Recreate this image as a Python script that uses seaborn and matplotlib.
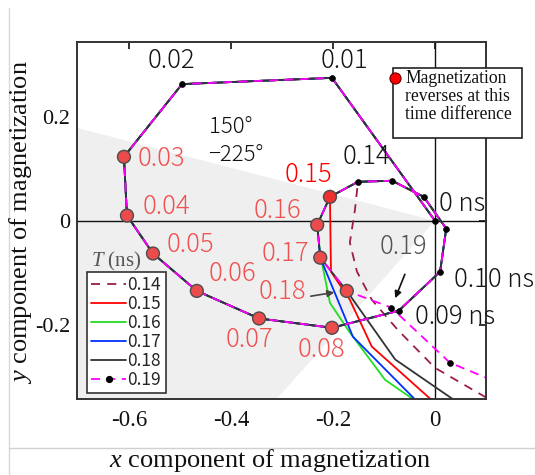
import matplotlib
matplotlib.use("Agg")
import matplotlib.pyplot as plt
import seaborn as sns
from matplotlib.lines import Line2D
from matplotlib.patches import Rectangle

# ---------------------------------------------------------------
# Shared magnetization trajectory, one point every 0.01 ns
# ---------------------------------------------------------------
times = [0.00, 0.01, 0.02, 0.03, 0.04, 0.05, 0.06, 0.07, 0.08, 0.09,
         0.10, 0.11, 0.12, 0.13, 0.14, 0.15, 0.16, 0.17, 0.18, 0.19]
traj_x = [0.000, -0.202, -0.496, -0.610, -0.604, -0.553, -0.467, -0.345, -0.202, -0.071,
          0.010, 0.022, -0.022, -0.084, -0.151, -0.206, -0.231, -0.225, -0.173, -0.086]
traj_y = [0.000, 0.275, 0.263, 0.123, 0.010, -0.063, -0.135, -0.188, -0.206, -0.173,
          -0.098, -0.015, 0.046, 0.077, 0.075, 0.046, -0.008, -0.071, -0.135, -0.167]

# Trajectories after the second pulse applied at time difference T
T_values = [0.14, 0.15, 0.16, 0.17, 0.18, 0.19]
after_x_014 = [-0.157, -0.167, -0.153, -0.124, -0.073, 0.000, 0.100, 0.137]
after_y_014 = [0.021, -0.042, -0.098, -0.152, -0.210, -0.283, -0.340, -0.363]
after_x_015 = [-0.204, -0.167, -0.124, -0.010, 0.020]
after_y_015 = [-0.098, -0.152, -0.242, -0.342, -0.373]
after_x_016 = [-0.225, -0.206, -0.167, -0.098, -0.045, -0.020]
after_y_016 = [-0.065, -0.158, -0.215, -0.306, -0.342, -0.363]
after_x_017 = [-0.161, -0.039, -0.014]
after_y_017 = [-0.223, -0.344, -0.367]
after_x_018 = [-0.078, 0.033, 0.059]
after_y_018 = [-0.267, -0.342, -0.363]
after_x_019 = [0.029, 0.137]
after_y_019 = [-0.273, -0.317]

after_x = [after_x_014, after_x_015, after_x_016, after_x_017, after_x_018, after_x_019]
after_y = [after_y_014, after_y_015, after_y_016, after_y_017, after_y_018, after_y_019]

line_colors = ["#9a2040", "#ff0000", "#22dd22", "#0030ff", "#333333", "#ff00ff"]
line_styles = [(0, (5, 4)), "-", "-", "-", "-", (0, (5, 3.5))]

# Times at which the magnetization reverses (highlighted)
reversing_times = [0.03, 0.04, 0.05, 0.06, 0.07, 0.08, 0.15, 0.16, 0.17, 0.18]

x_ticks = [-0.6, -0.4, -0.2, 0.0]
x_tick_labels = ["-0.6", "-0.4", "-0.2", "0"]
y_ticks = [-0.2, 0.0, 0.2]
y_tick_labels = ["-0.2", "0", "0.2"]

# ---------------------------------------------------------------
sns.set_style("white")
plt.rcParams["font.family"] = ["Liberation Serif", "DejaVu Serif"]
plt.rcParams["mathtext.fontset"] = "custom"
plt.rcParams["mathtext.rm"] = "Liberation Serif"
plt.rcParams["mathtext.it"] = "Liberation Serif:italic"
SANS = ["Noto Sans CJK JP", "DejaVu Sans"]
LBL = 18.5

W, H = 535, 475
fig = plt.figure(figsize=(W / 100, H / 100), dpi=100)
ax = fig.add_axes([77 / W, 1 - 399 / H, (486 - 77) / W, (399 - 42) / H])
ax.set_xlim(-0.702, 0.100)
ax.set_ylim(-0.343, 0.344)

# shaded sector of the switching region
ax.fill([0.0, -0.75, -0.75, -0.362], [0.0, 0.191, -0.40, -0.40],
        color="#efefef", lw=0, zorder=0.5)
ax.axhline(0, color="#111111", lw=1.0, zorder=1)
ax.axvline(0, color="#111111", lw=1.0, zorder=1)

for k, T in enumerate(T_values):
    i = times.index(T)
    cx = traj_x[: i + 1] + after_x[k]
    cy = traj_y[: i + 1] + after_y[k]
    kws = dict(color=line_colors[k], linestyle=line_styles[k], lw=1.3)
    if T == 0.19:
        kws.update(marker="o", markersize=4.2, markerfacecolor="black",
                   markeredgecolor="black", markeredgewidth=0.5)
    sns.lineplot(x=cx, y=cy, sort=False, estimator=None, ax=ax, zorder=2 + k * 0.1, **kws)

rev_idx = [times.index(t) for t in reversing_times]
rx = [traj_x[i] for i in rev_idx]
ry = [traj_y[i] for i in rev_idx]
fills = ["#f03030" if t == 0.15 else "#eb4b4b" for t in reversing_times]
ax.scatter(rx, ry, s=86, c=fills, edgecolors="#4d4d4d", linewidths=1.0, zorder=5)

# time labels along the trajectory
black_labels = [("0.02", -0.516, 0.308), ("0.01", -0.178, 0.308), ("0.14", -0.135, 0.123),
                ("0 ns", 0.053, 0.033), ("0.10 ns", 0.116, -0.113), ("0.09 ns", 0.040, -0.185)]
for s, x, y in black_labels:
    ax.text(x, y, s, ha="center", va="center", fontsize=LBL, family=SANS, weight="light",
            color="#161616", zorder=6)
red_labels = [("0.03", -0.537, 0.119), ("0.04", -0.527, 0.027), ("0.05", -0.480, -0.046),
              ("0.06", -0.398, -0.102), ("0.07", -0.363, -0.229), ("0.08", -0.222, -0.248),
              ("0.16", -0.308, 0.019), ("0.17", -0.294, -0.063), ("0.18", -0.300, -0.137)]
for s, x, y in red_labels:
    ax.text(x, y, s, ha="center", va="center", fontsize=LBL, family=SANS, weight="light",
            color="#f05252", zorder=6)
ax.text(-0.249, 0.088, "0.15", ha="center", va="center", fontsize=LBL, family=SANS,
        weight="light", color="#ff0000", zorder=6)
ax.text(-0.061, -0.050, "0.19", ha="center", va="center", fontsize=LBL, family=SANS,
        weight="light", color="#555555", zorder=6)
ax.text(-0.400, 0.181, "150°", ha="center", va="center", fontsize=16, family=SANS,
        weight="light", color="#111111")
ax.text(-0.390, 0.127, "\u2212225°", ha="center", va="center", fontsize=16, family=SANS,
        weight="light", color="#111111")

ax.annotate("", xy=(-0.192, -0.137), xytext=(-0.249, -0.146),
            arrowprops=dict(arrowstyle="-|>", color="#444444", lw=1.2, mutation_scale=10),
            zorder=6)
ax.annotate("", xy=(-0.080, -0.154), xytext=(-0.057, -0.098),
            arrowprops=dict(arrowstyle="-|>", color="#111111", lw=1.2, mutation_scale=10),
            zorder=6)

# axes styling
ax.set_xticks(x_ticks, x_tick_labels)
ax.set_yticks(y_ticks, y_tick_labels)
ax.tick_params(direction="in", length=5, width=1.2, top=True, right=True, colors="#111111")
ax.tick_params(axis="x", pad=8, labelsize=16.5)
ax.tick_params(axis="y", pad=5, labelsize=16)
for sp in ax.spines.values():
    sp.set_color("#333333")
    sp.set_linewidth(1.4)

# legend
handles = []
for k, T in enumerate(T_values):
    if T == 0.19:
        h = Line2D([], [], color=line_colors[k], linestyle=line_styles[k], lw=1.3,
                   marker="o", markersize=4.2, markerfacecolor="black", markeredgecolor="black")
    else:
        h = Line2D([], [], color=line_colors[k], linestyle=line_styles[k], lw=1.3)
    handles.append(h)
leg = ax.legend(handles, [f"{T:.2f}" for T in T_values], loc="lower left",
                bbox_to_anchor=(0.024, 0.017), frameon=True, fancybox=False,
                framealpha=1, edgecolor="#333333", prop={"family": SANS, "size": 12.5},
                handlelength=2.0, handletextpad=0.1, labelspacing=0.05,
                borderpad=0.25, borderaxespad=0)
leg.get_frame().set_linewidth(1.2)
leg.set_zorder(7)
ax.text(-0.625, -0.079, "$T$ (ns)", ha="center", va="center", fontsize=15, color="#555555")

# note box
fig.add_artist(Rectangle((393 / W, 1 - 138 / H), 129 / W, 70 / H, transform=fig.transFigure,
                         facecolor="white", edgecolor="#222222", lw=1.2, zorder=1))
fig.add_artist(Line2D([395 / W], [1 - 78 / H], transform=fig.transFigure, marker="o",
                      markersize=8, markerfacecolor="#ff0000", markeredgecolor="#600000",
                      markeredgewidth=0.8, zorder=2))
fig.text(405 / W, 1 - 70 / H, "Magnetization\nreverses at this\ntime difference",
         ha="left", va="top", fontsize=12.7, linespacing=1.08, color="#111111")

# axis titles
fig.text(270 / W, 1 - 461 / H, "$x$ component of magnetization", ha="center", va="center",
         fontsize=19, color="#111111")
fig.text(21 / W, 1 - 222 / H, "$y$ component of magnetization", ha="center", va="center",
         rotation=90, fontsize=19, color="#111111")

# page rules
fig.add_artist(Line2D([9 / W, 9 / W], [0, 1 - 8 / H], transform=fig.transFigure,
                      color="#d8d8d8", lw=1))
fig.add_artist(Line2D([9 / W, 1], [1 - 448 / H, 1 - 448 / H], transform=fig.transFigure,
                      color="#d0d0d0", lw=1))

fig.savefig("out.png", dpi=100)
